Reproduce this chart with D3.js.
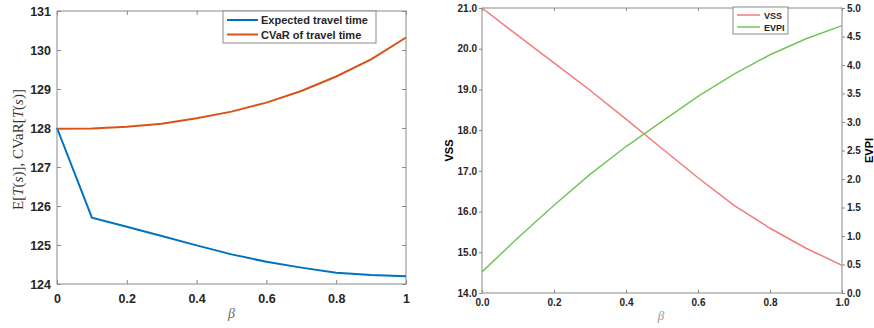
<!DOCTYPE html>
<html>
<head>
<meta charset="utf-8">
<script src="https://cdn.jsdelivr.net/npm/d3@7"></script>
<style>
  html, body { margin: 0; padding: 0; background: #fff; }
  svg { display: block; font-family: "Liberation Sans", Arial, sans-serif; }
</style>
</head>
<body>
<svg id="chart" width="874" height="328"></svg>
<script>
// β grid shared by both panels
const beta = [0, 0.1, 0.2, 0.3, 0.4, 0.5, 0.6, 0.7, 0.8, 0.9, 1.0];

// Left panel: expected and CVaR travel time
const expectedTime = [128.0, 125.7, 125.47, 125.23, 124.99, 124.76, 124.57, 124.42, 124.29, 124.23, 124.2];
const cvarTime     = [127.98, 127.99, 128.03, 128.11, 128.25, 128.42, 128.65, 128.95, 129.32, 129.76, 130.32];
const leftYTicks = [124, 125, 126, 127, 128, 129, 130, 131];
const leftXTicks = [0, 0.2, 0.4, 0.6, 0.8, 1];

// Right panel: VSS (left axis) and EVPI (right axis)
const vss  = [21.0, 20.32, 19.65, 18.98, 18.27, 17.55, 16.83, 16.15, 15.59, 15.1, 14.68];
const evpi = [0.37, 0.97, 1.54, 2.08, 2.57, 3.01, 3.45, 3.84, 4.18, 4.46, 4.69];
const vssTicks  = [14, 15, 16, 17, 18, 19, 20, 21];
const evpiTicks = [0, 0.5, 1, 1.5, 2, 2.5, 3, 3.5, 4, 4.5, 5];
const rightXTicks = [0, 0.2, 0.4, 0.6, 0.8, 1];

const svg = d3.select("#chart");
const axisGrey = "#8a8a8a";
const textDark = "#262626";
const sans = "'Liberation Sans', Arial, sans-serif";
const serif = "'Liberation Serif', 'DejaVu Serif', serif";

function styleAxis(g, fontSize) {
  g.select(".domain").remove();
  g.selectAll(".tick line").attr("stroke", axisGrey).attr("stroke-width", 1);
  g.selectAll(".tick text")
    .attr("fill", textDark)
    .style("font-weight", "bold")
    .style("font-size", fontSize + "px")
    .style("font-family", sans);
}

// ---------- Left panel ----------
{
  const L = 57, R = 406, T = 11, B = 284;
  const x = d3.scaleLinear().domain([0, 1]).range([L, R]);
  const y = d3.scaleLinear().domain([124, 131]).range([B, T]);
  const g = svg.append("g");

  // bottom axis, ticks inward
  g.append("g").attr("transform", `translate(0,${B})`)
    .call(d3.axisBottom(x).tickValues(leftXTicks).tickFormat(d3.format("")).tickSizeInner(-4).tickSizeOuter(0).tickPadding(10))
    .call(a => styleAxis(a, 12.5));
  // top axis ticks only
  g.append("g").attr("transform", `translate(0,${T})`)
    .call(d3.axisTop(x).tickValues(leftXTicks).tickFormat("").tickSizeInner(-4).tickSizeOuter(0))
    .call(a => styleAxis(a, 12.5));
  // left axis
  g.append("g").attr("transform", `translate(${L},0)`)
    .call(d3.axisLeft(y).tickValues(leftYTicks).tickFormat(d3.format("d")).tickSizeInner(-4).tickSizeOuter(0).tickPadding(6))
    .call(a => styleAxis(a, 12.5));
  // right axis ticks only
  g.append("g").attr("transform", `translate(${R},0)`)
    .call(d3.axisRight(y).tickValues(leftYTicks).tickFormat("").tickSizeInner(-4).tickSizeOuter(0))
    .call(a => styleAxis(a, 12.5));

  // box
  g.append("rect").attr("x", L).attr("y", T).attr("width", R - L).attr("height", B - T)
    .attr("fill", "none").attr("stroke", axisGrey).attr("stroke-width", 1);

  const line = vals => d3.line().x((d, i) => x(beta[i])).y(d => y(d))(vals);
  g.append("path").attr("d", line(expectedTime)).attr("fill", "none")
    .attr("stroke", "#0072BD").attr("stroke-width", 2);
  g.append("path").attr("d", line(cvarTime)).attr("fill", "none")
    .attr("stroke", "#D95319").attr("stroke-width", 2);

  // x label
  g.append("text").attr("x", (L + R) / 2).attr("y", 318).attr("text-anchor", "middle")
    .style("font-family", serif).style("font-style", "italic")
    .style("font-size", "14px").attr("fill", "#6a6a6a").text("β");

  // y label (math-style)
  const yl = g.append("text").attr("transform", `translate(23,${(T + B) / 2 + 2}) rotate(-90)`)
    .attr("text-anchor", "middle").attr("fill", "#333")
    .style("font-family", serif).style("font-size", "15px");
  const parts = [["E[", "normal"], ["T", "italic"], ["(", "normal"], ["s", "italic"], [")], CVaR[", "normal"],
                 ["T", "italic"], ["(", "normal"], ["s", "italic"], [")]", "normal"]];
  parts.forEach(([t, s]) => yl.append("tspan").style("font-style", s).text(t));

  // legend
  const lx = 223, ly = 11, lw = 153, lh = 32;
  g.append("rect").attr("x", lx).attr("y", ly).attr("width", lw).attr("height", lh)
    .attr("fill", "#fff").attr("stroke", axisGrey).attr("stroke-width", 1);
  const legendItems = [["Expected travel time", "#0072BD"], ["CVaR of travel time", "#D95319"]];
  legendItems.forEach(([label, color], i) => {
    const yy = ly + 9 + i * 14.5;
    g.append("line").attr("x1", lx + 4).attr("x2", lx + 35).attr("y1", yy).attr("y2", yy)
      .attr("stroke", color).attr("stroke-width", 2);
    g.append("text").attr("x", lx + 38).attr("y", yy + 4).style("font-size", "11px")
      .style("font-weight", "bold").attr("fill", textDark).text(label);
  });
}

// ---------- Right panel ----------
{
  const L = 482, R = 842, T = 8, B = 293;
  const x = d3.scaleLinear().domain([0, 1]).range([L, R]);
  const yL = d3.scaleLinear().domain([14, 21]).range([B, T]);
  const yR = d3.scaleLinear().domain([0, 5]).range([B, T]);
  const g = svg.append("g");
  const f1 = d3.format(".1f");

  g.append("g").attr("transform", `translate(0,${B})`)
    .call(d3.axisBottom(x).tickValues(rightXTicks).tickFormat(f1).tickSizeInner(-3).tickSizeOuter(0).tickPadding(6))
    .call(a => styleAxis(a, 10));
  g.append("g").attr("transform", `translate(0,${T})`)
    .call(d3.axisTop(x).tickValues(rightXTicks).tickFormat("").tickSizeInner(-3).tickSizeOuter(0))
    .call(a => styleAxis(a, 10));
  g.append("g").attr("transform", `translate(${L},0)`)
    .call(d3.axisLeft(yL).tickValues(vssTicks).tickFormat(f1).tickSizeInner(3).tickSizeOuter(0).tickPadding(2))
    .call(a => styleAxis(a, 10));
  g.append("g").attr("transform", `translate(${R},0)`)
    .call(d3.axisRight(yR).tickValues(evpiTicks).tickFormat(f1).tickSizeInner(3).tickSizeOuter(0).tickPadding(2))
    .call(a => styleAxis(a, 10));

  g.append("rect").attr("x", L).attr("y", T).attr("width", R - L).attr("height", B - T)
    .attr("fill", "none").attr("stroke", axisGrey).attr("stroke-width", 1);

  const lineL = d3.line().x((d, i) => x(beta[i])).y(d => yL(d));
  const lineR = d3.line().x((d, i) => x(beta[i])).y(d => yR(d));
  g.append("path").attr("d", lineL(vss)).attr("fill", "none")
    .attr("stroke", "#f27b7b").attr("stroke-width", 1.5);
  g.append("path").attr("d", lineR(evpi)).attr("fill", "none")
    .attr("stroke", "#72c65a").attr("stroke-width", 1.5);

  g.append("text").attr("x", (L + R) / 2 - 1).attr("y", 320).attr("text-anchor", "middle")
    .style("font-family", serif).style("font-style", "italic")
    .style("font-size", "13px").attr("fill", "#9a9a9a").text("β");

  g.append("text").attr("transform", `translate(453,${(T + B) / 2}) rotate(-90)`)
    .attr("text-anchor", "middle").style("font-weight", "bold").style("font-size", "11px")
    .attr("fill", "#000").text("VSS");
  g.append("text").attr("transform", `translate(873,${(T + B) / 2}) rotate(-90)`)
    .attr("text-anchor", "middle").style("font-weight", "bold").style("font-size", "11px")
    .attr("fill", "#000").text("EVPI");

  const lx = 733, ly = 7, lw = 55, lh = 27;
  g.append("rect").attr("x", lx).attr("y", ly).attr("width", lw).attr("height", lh)
    .attr("fill", "#fff").attr("stroke", axisGrey).attr("stroke-width", 1);
  const items = [["VSS", "#f27b7b"], ["EVPI", "#72c65a"]];
  items.forEach(([label, color], i) => {
    const yy = ly + 8 + i * 12;
    g.append("line").attr("x1", lx + 4).attr("x2", lx + 27).attr("y1", yy).attr("y2", yy)
      .attr("stroke", color).attr("stroke-width", 1.5);
    g.append("text").attr("x", lx + 31).attr("y", yy + 3.5).style("font-size", "9px")
      .style("font-weight", "bold").attr("fill", textDark).text(label);
  });
}
</script>
</body>
</html>
